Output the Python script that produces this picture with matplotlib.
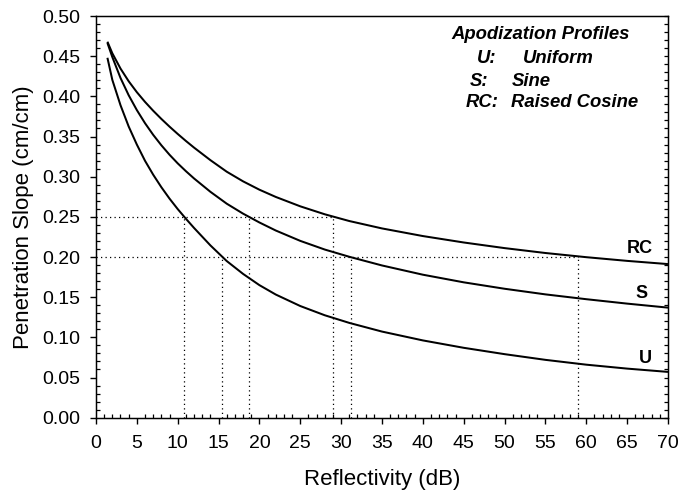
import matplotlib
matplotlib.use("Agg")
import matplotlib.pyplot as plt
from matplotlib.ticker import MultipleLocator, FormatStrFormatter

plt.rcParams['font.family'] = ['Liberation Sans', 'DejaVu Sans']

# Reflectivity (dB)
refl = [1.4, 2, 3, 4, 5, 6, 7, 8, 9, 10, 11, 12, 14, 16, 18, 20, 22, 25, 28, 31,
        35, 40, 45, 50, 55, 60, 65, 70]
# Penetration slope (cm/cm)
uniform = [0.448, 0.4205, 0.389, 0.3625, 0.340, 0.3198, 0.3025, 0.2869, 0.2727, 0.2597,
           0.2477, 0.2362, 0.2145, 0.1950, 0.1790, 0.1650, 0.1533, 0.1390, 0.1275, 0.1180,
           0.1072, 0.0962, 0.0870, 0.0791, 0.0720, 0.0660, 0.0611, 0.0570]
sine = [0.4665, 0.4489, 0.4229, 0.4014, 0.3829, 0.3666, 0.3521, 0.3391, 0.3273, 0.3166,
        0.3069, 0.2978, 0.2812, 0.2664, 0.2540, 0.2430, 0.2330, 0.2201, 0.2093, 0.2003,
        0.1895, 0.1780, 0.1685, 0.1605, 0.1535, 0.1475, 0.1420, 0.1370]
raised_cosine = [0.468, 0.4536, 0.4346, 0.4188, 0.4052, 0.3931, 0.3821, 0.3719, 0.3623, 0.3532,
                 0.3445, 0.3362, 0.3206, 0.3062, 0.2942, 0.2838, 0.2748, 0.2631, 0.2532, 0.2448,
                 0.2356, 0.2261, 0.2181, 0.2111, 0.2050, 0.1998, 0.1952, 0.1912]

# guide lines: (slope level, reflectivity where curves cross it)
level_hi = 0.25
cross_hi = [10.8, 18.7, 29.05]
level_lo = 0.20
cross_lo = [15.45, 31.25, 58.95]

fig = plt.figure(figsize=(6.94, 4.91), dpi=100)
ax = fig.add_axes([0.1383, 0.1493, 0.8242, 0.8181])

for ys in (uniform, sine, raised_cosine):
    ax.plot(refl, ys, color='black', lw=1.45, solid_capstyle='butt', solid_joinstyle='round')

dot = dict(color='black', lw=0.9, linestyle=(0, (1, 2.6)))
ax.plot([0, max(cross_hi)], [level_hi, level_hi], **dot)
ax.plot([0, max(cross_lo)], [level_lo, level_lo], **dot)
for xc in cross_hi:
    ax.plot([xc, xc], [0, level_hi], **dot)
for xc in cross_lo:
    ax.plot([xc, xc], [0, level_lo], **dot)

ax.set_xlim(0, 70)
ax.set_ylim(0, 0.5)
ax.xaxis.set_major_locator(MultipleLocator(5))
ax.xaxis.set_minor_locator(MultipleLocator(1))
ax.yaxis.set_major_locator(MultipleLocator(0.05))
ax.yaxis.set_minor_locator(MultipleLocator(0.01))
ax.yaxis.set_major_formatter(FormatStrFormatter('%.2f'))

ax.tick_params(which='major', direction='out', length=4.5, width=1, labelsize=14)
ax.tick_params(axis='x', which='major', pad=8)
ax.tick_params(axis='y', which='major', pad=6.5)
ax.tick_params(which='minor', direction='in', length=3, width=0.9)
ax.tick_params(top=False, right=False, which='both')
for s in ax.spines.values():
    s.set_linewidth(1.0)

ax2 = ax.twinx()
ax2.set_ylim(0, 0.5)
ax2.yaxis.set_major_locator(MultipleLocator(0.05))
ax2.yaxis.set_minor_locator(MultipleLocator(0.01))
ax2.tick_params(which='both', direction='in', length=3, width=0.9, labelright=False)

ax.set_xlabel('Reflectivity (dB)', fontsize=16, labelpad=12)
ax.set_ylabel('Penetration Slope (cm/cm)', fontsize=16, labelpad=6)

tkw = dict(fontsize=13.3, fontweight='bold', fontstyle='italic')
ax.text(54.4, 0.477, 'Apodization Profiles', ha='center', va='center', **tkw)
ax.text(46.6, 0.447, 'U:', ha='left', va='center', **tkw)
ax.text(52.3, 0.447, 'Uniform', ha='left', va='center', **tkw)
ax.text(45.8, 0.418, 'S:', ha='left', va='center', **tkw)
ax.text(50.9, 0.418, 'Sine', ha='left', va='center', **tkw)
ax.text(45.2, 0.392, 'RC:', ha='left', va='center', **tkw)
ax.text(50.8, 0.392, 'Raised Cosine', ha='left', va='center', **tkw)

lkw = dict(fontsize=13, fontweight='bold', ha='center', va='center')
ax.text(66.6, 0.211, 'RC', **lkw)
ax.text(66.8, 0.155, 'S', **lkw)
ax.text(67.2, 0.074, 'U', **lkw)

fig.savefig('out.png', dpi=100)
